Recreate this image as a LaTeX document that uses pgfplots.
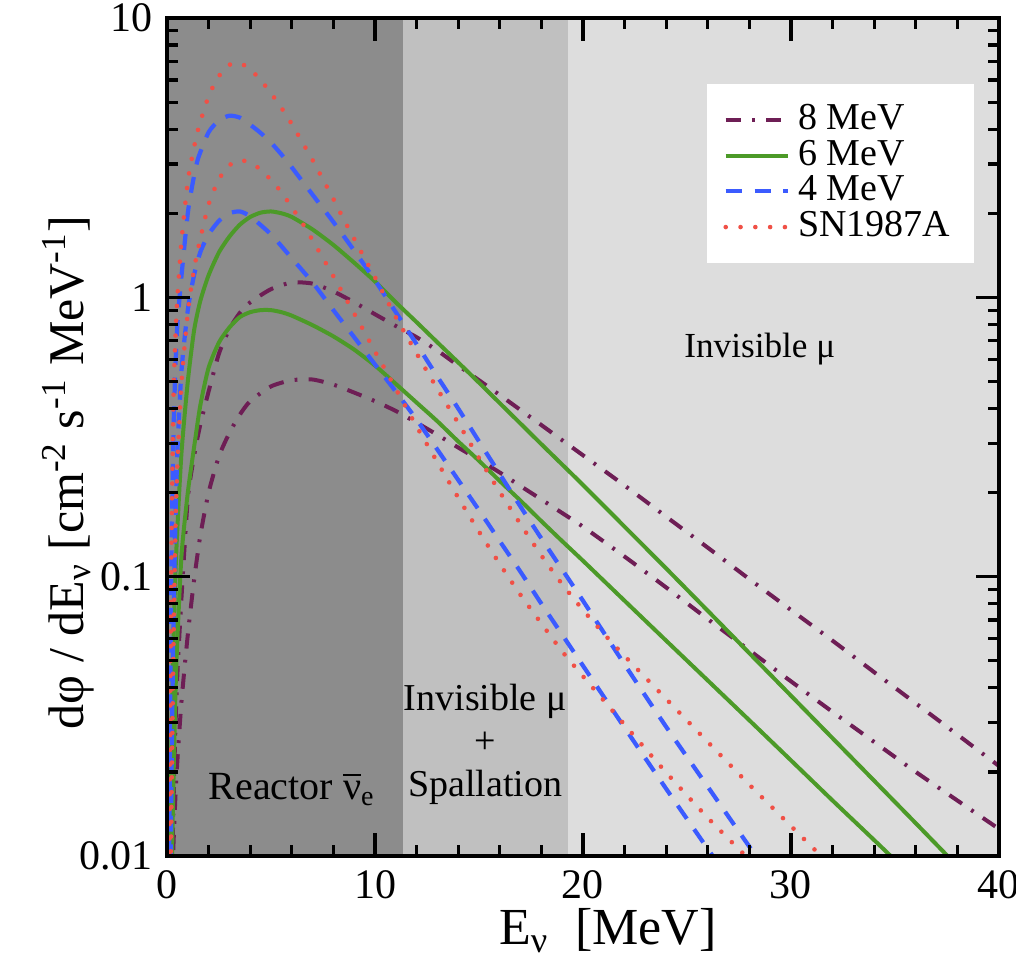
\documentclass[border=0pt]{standalone}
\usepackage{pgfplots}
\pgfplotsset{compat=1.18}
\usepackage{fontspec}
\setmainfont{Liberation Serif}

\definecolor{colE}{RGB}{110,30,85}
\definecolor{colS}{RGB}{76,154,40}
\definecolor{colF}{RGB}{59,91,255}
\definecolor{colR}{RGB}{240,80,70}
\definecolor{bgA}{RGB}{140,140,140}
\definecolor{bgB}{RGB}{192,192,192}
\definecolor{bgC}{RGB}{221,221,221}

\tikzset{
 c8/.style={colE, line width=1pt, dash pattern=on 3.8pt off 2.8pt on 0.7pt off 2.8pt},
 c6/.style={colS, line width=1pt, solid},
 c4/.style={colF, line width=1.05pt, dash pattern=on 4pt off 3.2pt},
 cS/.style={colR, line width=1.15pt, line cap=round, dash pattern=on 0pt off 3.7pt},
}

\begin{document}
\begin{tikzpicture}
\begin{axis}[
  scale only axis, width=208pt, height=209.5pt,
  xmin=0, xmax=40, ymin=0.01, ymax=10, ymode=log,
  axis on top,
  xtick={0,10,20,30,40}, minor x tick num=4,
  log ticks with fixed point,
  /pgf/number format/assume math mode=true,
  tick label style={font=\fontsize{10.5}{12}\selectfont},
  xtick pos=both, ytick pos=both, tick align=inside,
  major tick length=5.8pt, minor tick length=2.7pt,
  every tick/.style={black, line width=0.8pt},
  axis line style={line width=0.8pt},
  xlabel={E\textsubscript{ν}~~[MeV]},
  ylabel={dφ / dE\textsubscript{ν} [cm\textsuperscript{-2} s\textsuperscript{-1} MeV\textsuperscript{-1}]},
  label style={font=\fontsize{12.5}{14}\selectfont},
  xlabel style={at={(axis description cs:0.53,-0.062)}, anchor=north, inner sep=0pt, font=\fontsize{13}{14}\selectfont},
  ylabel style={at={(axis description cs:-0.087,0.458)}, anchor=south, inner sep=0pt},
  legend style={at={(0.971,0.922)}, anchor=north east, draw=none, fill=white,
    font=\fontsize{9.5}{10}\selectfont, inner xsep=4pt, inner ysep=3pt, row sep=-2.85pt},
  legend cell align=left,
  legend image code/.code={\draw[#1] (0pt,0pt) -- (15.5pt,0pt);},
]
\addplot[draw=none, fill=bgA, forget plot] coordinates {(0,0.01) (11.35,0.01) (11.35,10) (0,10)} -- cycle;
\addplot[draw=none, fill=bgB, forget plot] coordinates {(11.35,0.01) (19.3,0.01) (19.3,10) (11.35,10)} -- cycle;
\addplot[draw=none, fill=bgC, forget plot] coordinates {(19.3,0.01) (40,0.01) (40,10) (19.3,10)} -- cycle;

% 8 MeV upper
\addplot[c8, smooth, tension=0.4] coordinates {
(0.25,0.008) (0.3,0.014) (0.4,0.028) (0.5,0.045) (0.7,0.085) (1.0,0.19) (1.3,0.27) (1.6,0.35) (2.0,0.46) (2.5,0.63) (3.0,0.77) (3.5,0.88) (4.0,0.96) (5.0,1.07) (6.0,1.13) (7.0,1.12) (8.0,1.05) (9.0,0.96) (10.0,0.87) (11.0,0.79) (12.0,0.72) (13.0,0.645) (14.0,0.57) (15.0,0.505) (16.0,0.447) (17.0,0.395) (18.0,0.349) (19.0,0.308) (20.0,0.272) (22.0,0.212) (24.0,0.164) (26.0,0.127) (28.0,0.098) (30.0,0.076) (32.0,0.059) (34.0,0.0455) (36.0,0.0352) (38.0,0.0272) (40.0,0.021)};
\addlegendentry{8 MeV}
% 8 MeV lower
\addplot[c8, smooth, tension=0.4, forget plot] coordinates {
(0.3,0.0105) (0.4,0.016) (0.5,0.022) (0.7,0.036) (1.0,0.062) (1.3,0.097) (1.6,0.14) (2.0,0.2) (2.5,0.27) (3.0,0.327) (3.5,0.38) (4.0,0.425) (5.0,0.48) (6.0,0.505) (7.0,0.508) (8.0,0.487) (9.0,0.456) (10.0,0.425) (11.0,0.392) (12.0,0.356) (13.0,0.322) (14.0,0.29) (15.0,0.262) (16.0,0.236) (17.0,0.211) (18.0,0.189) (19.0,0.169) (20.0,0.151) (22.0,0.118) (24.0,0.0915) (26.0,0.0705) (28.0,0.0545) (30.0,0.0422) (32.0,0.0328) (34.0,0.0256) (36.0,0.02) (38.0,0.0158) (40.0,0.0125)};
% 6 MeV upper
\addplot[c6, smooth, tension=0.4] coordinates {
(0.15,0.01) (0.2,0.022) (0.3,0.055) (0.4,0.1) (0.5,0.15) (0.7,0.28) (1.0,0.5) (1.3,0.76) (1.6,0.97) (2.0,1.2) (2.5,1.45) (3.0,1.65) (3.5,1.82) (4.0,1.94) (4.5,2.01) (5.0,2.03) (5.5,2.0) (6.0,1.94) (7.0,1.75) (8.0,1.54) (9.0,1.33) (10.0,1.14) (11.0,0.96) (12.0,0.815) (13.0,0.69) (14.0,0.585) (15.0,0.495) (16.0,0.418) (17.0,0.353) (18.0,0.298) (19.0,0.252) (20.0,0.213) (22.0,0.151) (24.0,0.107) (26.0,0.0755) (28.0,0.0532) (30.0,0.0375) (32.0,0.0264) (34.0,0.0186) (36.0,0.0131) (38.0,0.0092)};
\addlegendentry{6 MeV}
% 6 MeV lower
\addplot[c6, smooth, tension=0.4, forget plot] coordinates {
(0.24,0.01) (0.3,0.017) (0.4,0.037) (0.5,0.06) (0.7,0.12) (1.0,0.2) (1.3,0.29) (1.6,0.41) (2.0,0.56) (2.5,0.69) (3.0,0.78) (3.5,0.85) (4.0,0.885) (4.5,0.9) (5.0,0.9) (5.5,0.885) (6.0,0.86) (7.0,0.795) (8.0,0.725) (9.0,0.65) (10.0,0.57) (11.0,0.49) (12.0,0.42) (13.0,0.36) (14.0,0.305) (15.0,0.26) (16.0,0.22) (17.0,0.187) (18.0,0.158) (19.0,0.134) (20.0,0.114) (22.0,0.082) (24.0,0.059) (26.0,0.0425) (28.0,0.0306) (30.0,0.022) (32.0,0.0158) (34.0,0.0114) (36.0,0.0082)};
% 4 MeV upper
\addplot[c4, smooth, tension=0.4] coordinates {
(0.1,0.008) (0.15,0.03) (0.2,0.09) (0.3,0.3) (0.4,0.55) (0.5,0.8) (0.7,1.2) (1.0,2.0) (1.25,2.6) (1.5,3.15) (2.0,3.9) (2.5,4.3) (3.0,4.47) (3.5,4.4) (4.0,4.15) (4.5,3.88) (5.0,3.58) (5.5,3.25) (6.0,2.92) (7.0,2.33) (8.0,1.86) (9.0,1.47) (10.0,1.15) (11.0,0.885) (12.0,0.68) (13.0,0.52) (14.0,0.4) (15.0,0.305) (16.0,0.233) (17.0,0.178) (18.0,0.137) (19.0,0.106) (20.0,0.082) (22.0,0.0485) (24.0,0.029) (26.0,0.0177) (28.0,0.0108) (29.0,0.0085)};
\addlegendentry{4 MeV}
% 4 MeV lower
\addplot[c4, smooth, tension=0.4, forget plot] coordinates {
(0.15,0.006) (0.2,0.015) (0.3,0.06) (0.4,0.15) (0.5,0.28) (0.7,0.55) (1.0,0.9) (1.3,1.2) (1.6,1.45) (2.0,1.68) (2.5,1.88) (3.0,2.0) (3.5,2.03) (4.0,1.95) (5.0,1.68) (6.0,1.38) (7.0,1.13) (8.0,0.9) (9.0,0.72) (10.0,0.575) (11.0,0.46) (12.0,0.365) (13.0,0.285) (14.0,0.222) (15.0,0.173) (16.0,0.134) (17.0,0.104) (18.0,0.08) (19.0,0.062) (20.0,0.048) (22.0,0.0288) (24.0,0.0174) (26.0,0.0106) (27.0,0.0083)};
% SN1987A upper
\addplot[cS, smooth, tension=0.4] coordinates {
(0.1,0.008) (0.15,0.03) (0.2,0.1) (0.3,0.4) (0.4,0.7) (0.5,1.0) (0.7,1.6) (1.0,2.6) (1.25,3.3) (1.5,4.0) (2.0,5.25) (2.5,6.2) (3.0,6.8) (3.5,6.9) (4.0,6.55) (4.5,6.0) (5.0,5.38) (5.5,4.77) (6.0,4.17) (6.5,3.6) (7.0,3.1) (7.5,2.64) (8.0,2.25) (8.5,1.9) (9.0,1.62) (9.5,1.38) (10.0,1.18) (10.5,1.0) (11.0,0.85) (12.0,0.63) (13.0,0.47) (14.0,0.355) (15.0,0.266) (16.0,0.201) (17.0,0.154) (18.0,0.119) (19.0,0.094) (20.0,0.076) (21.0,0.0625) (22.0,0.052) (24.0,0.0365) (26.0,0.0256) (28.0,0.018) (30.0,0.0128) (32.0,0.0091)};
\addlegendentry{SN1987A}
% SN1987A lower
\addplot[cS, smooth, tension=0.4, forget plot] coordinates {
(0.15,0.005) (0.2,0.012) (0.3,0.05) (0.4,0.14) (0.5,0.25) (0.7,0.5) (1.0,0.88) (1.25,1.2) (1.5,1.5) (2.0,2.15) (2.5,2.65) (3.0,2.97) (3.5,3.1) (4.0,3.03) (4.5,2.87) (5.0,2.63) (5.5,2.38) (6.0,2.1) (6.5,1.85) (7.0,1.6) (7.5,1.38) (8.0,1.19) (8.5,1.02) (9.0,0.875) (9.5,0.75) (10.0,0.64) (10.5,0.55) (11.0,0.47) (11.5,0.403) (12.0,0.345) (13.0,0.257) (14.0,0.192) (15.0,0.145) (16.0,0.111) (17.0,0.086) (18.0,0.068) (19.0,0.054) (20.0,0.044) (22.0,0.0295) (24.0,0.0199) (26.0,0.0137) (28.0,0.0097) (29.0,0.0082)};

\node[anchor=base, inner sep=0pt, font=\fontsize{8.8}{10}\selectfont] at (axis cs:28.5,0.61) {Invisible μ};
\node[align=center, inner sep=0pt, font=\fontsize{9.5}{10.75}\selectfont] at (axis cs:15.3,0.0251) {Invisible μ\\+\\Spallation};
\node[anchor=base west, inner sep=0pt, font=\fontsize{10}{11}\selectfont] at (axis cs:1.97,0.016) {Reactor $\overline{\mbox{ν}}$\textsubscript{e}};
\end{axis}
\pgfresetboundingbox
\path[use as bounding box] (-41.75pt,-27.75pt) rectangle (212.25pt,214pt);
\end{tikzpicture}
\end{document}
